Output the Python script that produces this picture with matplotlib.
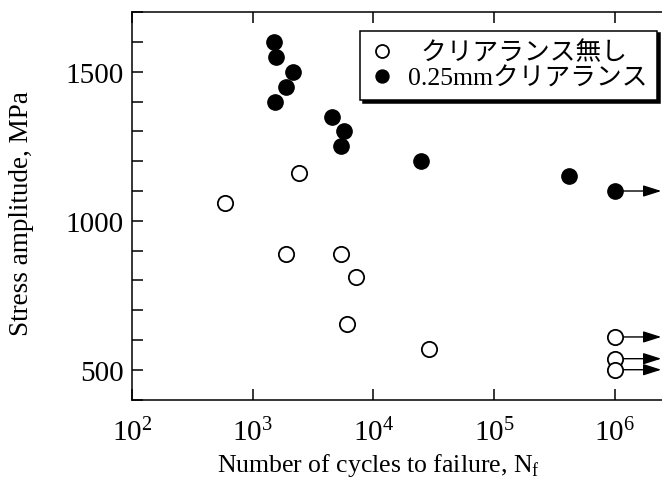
import matplotlib
matplotlib.use('Agg')
import matplotlib.pyplot as plt
import numpy as np
from matplotlib.ticker import MultipleLocator, LogLocator, NullLocator

plt.rcParams['font.family'] = ['Liberation Serif', 'Noto Sans CJK JP']
plt.rcParams['mathtext.fontset'] = 'custom'
plt.rcParams['mathtext.rm'] = 'Liberation Serif'

# no clearance (open circles)
open_n = [590, 2430, 1890, 5370, 7150, 6030, 29100]
open_s = [1060, 1160, 888, 888, 812, 654, 570]
# runouts at 1e6, open
open_run_n = [1e6, 1e6, 1e6]
open_run_s = [610, 537, 500]

# 0.25 mm clearance (filled circles)
fill_n = [1510, 1560, 2150, 1890, 1530, 4580, 5690, 5370, 24700, 420000]
fill_s = [1600, 1550, 1500, 1450, 1400, 1350, 1300, 1250, 1200, 1150]
fill_run_n = [1e6]
fill_run_s = [1100]

label_open = '  クリアランス無し'
label_fill = '0.25mmクリアランス'

xmin, xmax = 1e2, 3.0e6
decade_px = 120.8

fig = plt.figure(figsize=(6.62, 4.85), dpi=100)
ax_w = (np.log10(xmax) - np.log10(xmin)) * decade_px
ax = fig.add_axes([131.7 / 662, 1 - 400.5 / 485, ax_w / 662, (400.5 - 13.3) / 485])

ms = 11
ax.plot(open_n + open_run_n, open_s + open_run_s, 'o', ms=ms, mfc='white', mec='black', mew=1.3,
        label=label_open, clip_on=False, zorder=3)
ax.plot(fill_n + fill_run_n, fill_s + fill_run_s, 'o', ms=ms, mfc='black', mec='black', mew=1.0,
        label=label_fill, clip_on=False, zorder=3)

# run-out arrows
for n, s in zip(open_run_n + fill_run_n, open_run_s + fill_run_s):
    ax.annotate('', xy=(n * 2.42, s), xytext=(n, s),
                arrowprops=dict(arrowstyle='-|>,head_length=1.1,head_width=0.35', color='black',
                                lw=1.0, shrinkA=5.5, shrinkB=0, mutation_scale=10),
                zorder=2)

ax.set_xscale('log')
ax.set_xlim(xmin, xmax)
ax.set_ylim(400, 1700)
ax.xaxis.set_major_locator(LogLocator(base=10, numticks=10))
ax.xaxis.set_minor_locator(NullLocator())
ax.yaxis.set_major_locator(MultipleLocator(500))
ax.yaxis.set_minor_locator(MultipleLocator(100))
ax.tick_params(which='both', direction='in', top=True, right=True, length=8, width=1.1,
               labelsize=21)
ax.tick_params(axis='x', pad=13)
ax.tick_params(axis='y', pad=6)
for sp in ax.spines.values():
    sp.set_linewidth(1.1)

ax.set_xlabel('Number of cycles to failure, N$_{\\mathdefault{f}}$', fontsize=18.5, va='center')
ax.xaxis.set_label_coords(378 / 662, 1 - 466 / 485, transform=fig.transFigure)
ax.set_ylabel('Stress amplitude, MPa', fontsize=19.5, va='center')
ax.yaxis.set_label_coords(22 / 662, 1 - 214 / 485, transform=fig.transFigure)

leg = ax.legend(loc='upper left', bbox_to_anchor=(360 / 662, 1 - 31.7 / 485),
                bbox_transform=fig.transFigure, borderaxespad=0, fontsize=18.5,
                frameon=True, fancybox=False, shadow={'color': 'black', 'alpha': 1},
                edgecolor='black', framealpha=1, handlelength=0.95, handletextpad=0.5,
                borderpad=0.4, labelspacing=0.1, markerscale=0.85)
leg.get_frame().set_linewidth(1.1)

fig.savefig('out.png', dpi=100)
